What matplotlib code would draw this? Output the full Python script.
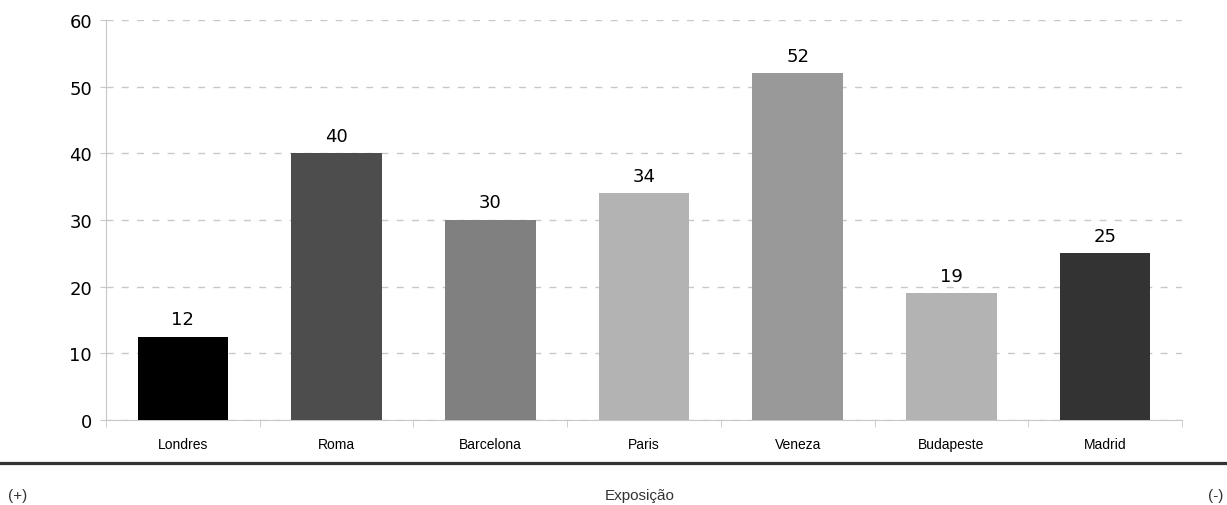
import matplotlib
matplotlib.use("Agg")
import matplotlib.pyplot as plt
import numpy as np

cities = ["Londres", "Roma", "Barcelona", "Paris", "Veneza", "Budapeste", "Madrid"]
values = [12.5, 40, 30, 34, 52, 19, 25]
labels = ["12", "40", "30", "34", "52", "19", "25"]
colors = ["#000000", "#4d4d4d", "#808080", "#b3b3b3", "#999999", "#b3b3b3", "#333333"]
yticks = [0, 10, 20, 30, 40, 50, 60]

fig = plt.figure(figsize=(12.27, 5.06), dpi=100)
ax = fig.add_axes([106/1227, 1-421/506, (1182-106)/1227, 400/506])

x = np.arange(len(cities))
ax.bar(x, values, width=0.59, color=colors, zorder=3)
for xi, v, lab in zip(x, values, labels):
    ax.text(xi, v + 1.3, lab, ha="center", va="bottom", fontsize=13, family="DejaVu Sans")

ax.set_xlim(-0.5, len(cities) - 0.5)
ax.set_ylim(0, 60)
ax.set_yticks(yticks)
ax.set_yticklabels([str(t) for t in yticks], fontsize=13)
ax.set_xticks(x)
ax.set_xticklabels(cities, fontsize=10, family="Liberation Sans")
ax.tick_params(axis="x", length=0, pad=12)
ax.tick_params(axis="y", length=4, color="#c8c8c8", pad=6)
ax.set_xticks(np.arange(len(cities) + 1) - 0.5, minor=True)
ax.tick_params(axis="x", which="minor", length=5, color="#c8c8c8")

ax.yaxis.grid(True, linestyle=(0, (5, 6)), color="#c8c8c8", linewidth=1, zorder=0)
for s in ["top", "right"]:
    ax.spines[s].set_visible(False)
for s in ["left", "bottom"]:
    ax.spines[s].set_color("#c8c8c8")

# thick separator and bottom labels
fig.add_artist(plt.Line2D([0, 1], [1-464/506, 1-464/506], color="#333333", linewidth=2.3))
fig.text(8/1227, 1-496/506, "(+)", fontsize=11, family="Liberation Sans", color="#333333", va="center")
fig.text(640/1227, 1-496/506, "Exposição", fontsize=11, family="Liberation Sans", color="#333333", va="center", ha="center")
fig.text(1223/1227, 1-496/506, "(-)", fontsize=11, family="Liberation Sans", color="#333333", va="center", ha="right")

fig.savefig("out.png", dpi=100)
